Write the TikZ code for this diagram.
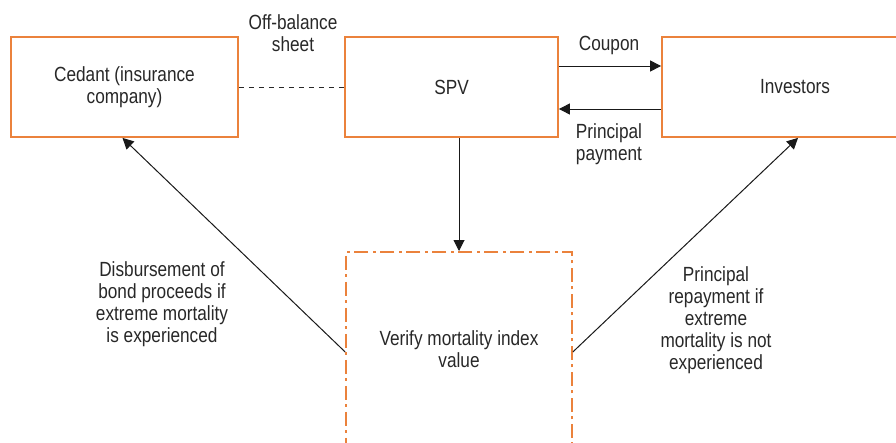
\documentclass[tikz,border=0pt]{standalone}
\usepackage{fontspec}
\setmainfont{Liberation Sans}[FakeStretch=0.84]
\usetikzlibrary{arrows.meta}
\definecolor{boxorange}{RGB}{235,130,60}
\definecolor{txt}{RGB}{40,40,40}
\tikzset{
  lbl/.style={align=center, text=txt, font=\fontsize{20.5}{22}\selectfont, inner sep=0pt},
  solidbox/.style={draw=boxorange, line width=1.8pt, text=txt, align=center,
    font=\fontsize{20.5}{22}\selectfont, minimum height=100pt, inner sep=0pt},
  dotbox/.style={draw=boxorange, line width=1.8pt, text=txt, align=center,
    font=\fontsize{20.5}{22}\selectfont, inner sep=0pt,
    dash pattern=on 14pt off 4.5pt on 3pt off 4.5pt},
  arr/.style={draw=black!90, line width=1pt, -{Triangle[length=11pt,width=11pt]}},
  dashline/.style={draw=txt, line width=1pt, dash pattern=on 5pt off 5pt}
}
\begin{document}
\begin{tikzpicture}[x=1pt,y=-1pt]
\useasboundingbox (0,0) rectangle (896,442);
\clip (0,0) rectangle (896,442);
\fill[white] (0,0) rectangle (896,442);
\node[solidbox, minimum width=227pt] (cedant) at (124.5,87) {Cedant (insurance\\company)};
\node[solidbox, minimum width=213pt] (spv) at (451.5,87) {SPV};
\node[solidbox, minimum width=266pt] (inv) at (795,87) {Investors};
\node[dotbox, minimum width=226pt, minimum height=194pt, anchor=north] (verify) at (459,251) {Verify mortality index\\value};

\node[lbl] (offbal) at (293,33.5) {Off-balance\\sheet};
\node[lbl] (coupon) at (609,45) {Coupon};
\node[lbl] (princpay) at (609,144) {Principal\\payment};
\node[lbl] (disb) at (162,304) {Disbursement of\\bond proceeds if\\extreme mortality\\is experienced};
\node[lbl] (prepay) at (716,320) {Principal\\repayment if\\extreme\\mortality is not\\experienced};

\draw[dashline] (cedant.east) -- (spv.west);
\draw[arr] ([yshift=21pt]spv.east) -- ([yshift=21pt]spv.east -| inv.west);
\draw[arr] ([yshift=-22pt]inv.west) -- ([yshift=-22pt]inv.west -| spv.east);
\draw[arr] (spv.south -| verify.north) -- (verify.north);
\draw[arr] ([yshift=-3pt]verify.west) -- ([xshift=-2pt]cedant.south);
\draw[arr] ([yshift=-3pt]verify.east) -- ([xshift=3pt]inv.south);
\end{tikzpicture}
\end{document}
